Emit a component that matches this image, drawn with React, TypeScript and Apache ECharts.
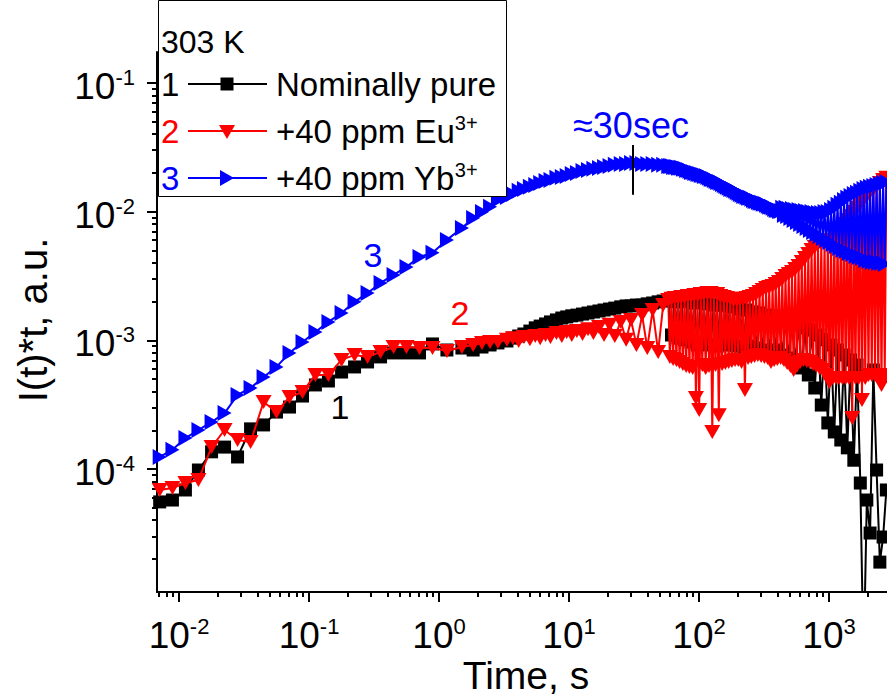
import React, { useEffect, useRef } from 'react';
import * as echarts from 'echarts';

// Time axis (s): shared early/mid part
const timeBase = [
  0.0071, 0.0089, 0.0112, 0.0141, 0.0178, 0.0224, 0.0282, 0.0355, 0.0447, 0.0562, 0.0708, 0.0891,
  0.112, 0.141, 0.178, 0.224, 0.282, 0.355, 0.447, 0.562, 0.708, 0.891,
  1.15, 1.5, 1.83, 2.14, 2.47, 2.84, 3.33, 3.7, 4.1, 4.5, 5.0, 5.5, 6.0, 6.6, 7.2, 8.0, 8.8, 9.6,
  10.5, 11.5, 12.7, 14, 15.4, 17, 18.6, 20.5, 22.5, 25, 27.5, 30, 33, 36.5, 40, 44, 48.5, 53,
];
// late part, sample 1 (nominally pure)
const timeLatePure = [
  58, 61.4, 65.1, 68.9, 73, 77.4, 82, 86.8, 92, 97.4, 103, 109, 116, 123, 130, 138, 146, 155, 164, 174,
  184, 195, 206, 219, 232, 245, 260, 275, 292, 309, 328, 347, 368, 389, 412, 437, 463, 490, 519, 550,
  583, 617, 654, 693, 734, 777, 823, 872, 924, 979, 1037, 1098, 1163, 1232, 1305, 1383, 1465, 1552,
  1644, 1741, 1845, 1954, 2070, 2193, 2323, 2461, 2607, 2761,
];
// late part, samples 2 and 3 (denser)
const timeLateDoped = [
  58, 59.7, 61.4, 63.2, 65.1, 67, 68.9, 70.9, 73, 75.1,
  77.4, 79.6, 82, 84.4, 86.8, 89.4, 92, 94.7, 97.4, 100.3,
  103, 106, 109, 112.5, 116, 119.5, 123, 126.5, 130, 134,
  138, 142, 146, 150.5, 155, 159.5, 164, 169, 174, 179,
  184, 189.5, 195, 200.5, 206, 212.5, 219, 225.5, 232, 238.5,
  245, 252.5, 260, 267.5, 275, 283.5, 292, 300.5, 309, 318.5,
  328, 337.5, 347, 357.5, 368, 378.5, 389, 400.5, 412, 424.5,
  437, 450, 463, 476.5, 490, 504.5, 519, 534.5, 550, 566.5,
  583, 600, 617, 635.5, 654, 673.5, 693, 713.5, 734, 755.5,
  777, 800, 823, 847.5, 872, 898, 924, 951.5, 979, 1008,
  1037, 1067.5, 1098, 1130.5, 1163, 1197.5, 1232, 1268.5, 1305, 1344,
  1383, 1424, 1465, 1508.5, 1552, 1598, 1644, 1692.5, 1741, 1793,
  1845, 1899.5, 1954, 2012, 2070, 2131.5, 2193, 2258, 2323, 2392,
  2461, 2534, 2607, 2684, 2761,
];

// 1: Nominally pure
const pureBase = [
  5.55e-5, 5.74e-5, 6.87e-5, 9.82e-5, 1.36e-4, 1.48e-4, 1.24e-4, 2.05e-4, 2.2e-4, 2.77e-4, 3.03e-4, 3.69e-4,
  4.5e-4, 4.83e-4, 5.67e-4, 6.21e-4, 6.79e-4, 7.43e-4, 7.98e-4, 7.98e-4, 7.98e-4, 9.37e-4,
  8.41e-4, 8.71e-4, 8.41e-4, 8.87e-4, 9.2e-4, 9.54e-4, 9.88e-4, 1.04e-3, 1.08e-3, 1.12e-3, 1.18e-3, 1.25e-3, 1.29e-3, 1.34e-3, 1.39e-3, 1.44e-3, 1.49e-3, 1.52e-3,
  1.55e-3, 1.57e-3, 1.6e-3, 1.63e-3, 1.66e-3, 1.69e-3, 1.72e-3, 1.75e-3, 1.78e-3, 1.82e-3, 1.85e-3, 1.85e-3, 1.88e-3, 1.88e-3, 1.92e-3, 1.95e-3, 1.99e-3, 2.02e-3,
];
const pureLate = [
  2.06e-3, 1.1e-3, 1.99e-3, 1.04e-3, 2.02e-3, 1.01e-3, 1.99e-3, 9.7e-4, 1.95e-3, 9.2e-4, 1.99e-3, 9.53e-4, 1.92e-3, 9.2e-4, 1.88e-3, 9.03e-4, 1.88e-3, 9.36e-4, 1.85e-3, 9.2e-4,
  1.82e-3, 9.03e-4, 1.75e-3, 8.72e-4, 1.72e-3, 9.03e-4, 1.66e-3, 8.72e-4, 1.63e-3, 8.41e-4, 1.57e-3, 8.11e-4, 1.55e-3, 8.41e-4, 1.49e-3, 7.69e-4, 1.44e-3, 7.29e-4, 1.39e-3, 6.78e-4,
  1.32e-3, 6.1e-4, 1.25e-3, 5.38e-4, 1.2e-3, 4.26e-4, 1.1e-3, 3.14e-4, 1.01e-3, 2.28e-4, 9.2e-4, 1.94e-4, 8.41e-4, 1.68e-4, 7.69e-4, 1.46e-4, 7.03e-4, 1.17e-4,
  6.43e-4, 7.78e-5, 3e-6, 5.74e-5, 3.18e-5, 5.88e-4, 9.82e-5, 1.89e-5, 2.96e-5, 6.87e-5,
];

// 2: +40 ppm Eu3+
const euBase = [
  6.87e-5, 7.12e-5, 7.78e-5, 8.22e-5, 1.48e-4, 2.01e-4, 1.68e-4, 1.62e-4, 3.32e-4, 2.77e-4, 3.63e-4, 3.97e-4,
  5.38e-4, 5.38e-4, 7.04e-4, 7.7e-4, 7.43e-4, 8.12e-4, 8.87e-4, 8.87e-4, 8.71e-4, 8.71e-4,
  8.26e-4, 8.87e-4, 9.2e-4, 9.54e-4, 9.71e-4, 9.71e-4, 1.01e-3, 1.04e-3, 9.88e-4, 1.06e-3, 1.02e-3, 1.08e-3, 1.04e-3, 1.1e-3, 1.06e-3, 1.14e-3, 1.08e-3, 1.16e-3,
  1.1e-3, 1.18e-3, 1.12e-3, 1.22e-3, 1.14e-3, 1.27e-3, 1.1e-3, 1.32e-3, 1.08e-3, 1.39e-3, 1.01e-3, 1.44e-3, 9.2e-4, 1.57e-3, 8.71e-4, 1.72e-3, 8.12e-4, 1.88e-3,
];
const euLate = [
  2.06e-3, 7.42e-4, 2.1e-3, 7.16e-4, 2.13e-3, 7.03e-4, 2.13e-3, 6.78e-4, 2.17e-3, 6.54e-4,
  2.17e-3, 6.32e-4, 2.21e-3, 6.21e-4, 2.21e-3, 6.1e-4, 2.25e-3, 3.56e-4, 2.25e-3, 2.87e-4,
  2.29e-3, 6.43e-4, 2.29e-3, 6.1e-4, 2.33e-3, 6.32e-4, 2.33e-3, 1.94e-4, 2.29e-3, 6.43e-4,
  2.29e-3, 2.62e-4, 2.21e-3, 6.54e-4, 2.17e-3, 6.66e-4, 2.13e-3, 6.78e-4, 2.1e-3, 6.91e-4,
  2.06e-3, 7.03e-4, 2.06e-3, 7.03e-4, 2.06e-3, 6.78e-4, 2.1e-3, 4.11e-4, 2.13e-3, 7.29e-4,
  2.17e-3, 7.42e-4, 2.21e-3, 7.55e-4, 2.29e-3, 7.69e-4, 2.37e-3, 7.55e-4, 2.46e-3, 7.42e-4,
  2.55e-3, 7.29e-4, 2.6e-3, 6.78e-4, 2.64e-3, 7.03e-4, 2.74e-3, 7.16e-4, 2.84e-3, 7.29e-4,
  3.0e-3, 7.03e-4, 3.16e-3, 6.66e-4, 3.28e-3, 6.32e-4, 3.4e-3, 5.88e-4, 3.59e-3, 6.32e-4,
  3.78e-3, 6.78e-4, 4.06e-3, 7.03e-4, 4.36e-3, 6.91e-4, 4.69e-3, 6.78e-4, 5.04e-3, 6.54e-4,
  5.31e-3, 6.32e-4, 5.61e-3, 6.1e-4, 5.71e-3, 5.88e-4, 5.81e-3, 5.38e-4, 5.91e-3, 4.74e-4,
  6.02e-3, 5.1e-4, 6.47e-3, 5.1e-4, 6.95e-3, 5.1e-4, 7.46e-3, 5.1e-4, 8.02e-3, 5.1e-4,
  8.61e-3, 5.1e-4, 9.25e-3, 2.49e-4, 9.94e-3, 5.1e-4, 1.07e-2, 5.1e-4, 1.15e-2, 3.44e-4,
  1.23e-2, 5.1e-4, 1.32e-2, 5.38e-4, 1.42e-2, 5.38e-4, 1.5e-2, 5.38e-4, 1.58e-2, 5.1e-4,
  1.67e-2, 4.5e-4, 1.76e-2, 5.38e-4, 1.83e-2,
];

// 3: +40 ppm Yb3+
const ybBase = [
  1.24e-4, 1.41e-4, 1.74e-4, 2.01e-4, 2.32e-4, 2.72e-4, 3.76e-4, 4.26e-4, 5.19e-4, 6.21e-4, 7.98e-4, 9.71e-4,
  1.16e-3, 1.39e-3, 1.63e-3, 1.99e-3, 2.33e-3, 2.79e-3, 3.22e-3, 3.72e-3, 4.45e-3, 4.8e-3,
  6.03e-3, 7.46e-3, 8.93e-3, 9.93e-3, 1.09e-2, 1.23e-2, 1.3e-2, 1.37e-2, 1.45e-2, 1.5e-2, 1.56e-2, 1.61e-2, 1.67e-2, 1.73e-2, 1.76e-2, 1.83e-2, 1.86e-2, 1.89e-2,
  1.96e-2, 2.0e-2, 2.07e-2, 2.11e-2, 2.15e-2, 2.18e-2, 2.22e-2, 2.26e-2, 2.31e-2, 2.35e-2, 2.35e-2, 2.39e-2, 2.39e-2, 2.35e-2, 2.35e-2, 2.35e-2, 2.31e-2, 2.31e-2,
];
const ybLate = [
  2.26e-2, 2.26e-2, 2.26e-2, 2.22e-2, 2.22e-2, 2.22e-2, 2.19e-2, 2.19e-2, 2.19e-2, 2.15e-2,
  2.15e-2, 2.11e-2, 2.11e-2, 2.07e-2, 2.03e-2, 2.03e-2, 2.0e-2, 2.0e-2, 1.96e-2, 1.96e-2,
  1.93e-2, 1.93e-2, 1.89e-2, 1.89e-2, 1.86e-2, 1.83e-2, 1.79e-2, 1.79e-2, 1.76e-2, 1.73e-2,
  1.7e-2, 1.7e-2, 1.67e-2, 1.64e-2, 1.61e-2, 1.58e-2, 1.56e-2, 1.53e-2, 1.5e-2, 1.5e-2,
  1.47e-2, 1.45e-2, 1.42e-2, 1.4e-2, 1.37e-2, 1.35e-2, 1.32e-2, 1.32e-2, 1.3e-2, 1.28e-2,
  1.28e-2, 1.26e-2, 1.23e-2, 1.21e-2, 1.21e-2, 1.19e-2, 1.17e-2, 1.17e-2, 1.15e-2, 1.15e-2,
  1.13e-2, 1.11e-2, 1.09e-2, 1.09e-2, 1.07e-2, 1.05e-2, 1.03e-2, 1.03e-2, 1.01e-2, 1.01e-2,
  1.07e-2, 9.42e-3, 1.07e-2, 9.25e-3, 1.05e-2, 8.93e-3, 1.05e-2, 8.61e-3, 1.03e-2, 8.31e-3,
  1.03e-2, 8.02e-3, 1.01e-2, 7.74e-3, 1.01e-2, 7.46e-3, 9.94e-3, 7.2e-3, 9.94e-3, 6.95e-3,
  9.76e-3, 6.7e-3, 9.76e-3, 6.47e-3, 9.76e-3, 6.24e-3, 9.94e-3, 6.02e-3, 9.94e-3, 5.81e-3,
  1.03e-2, 5.61e-3, 1.07e-2, 5.41e-3, 1.13e-2, 5.22e-3, 1.17e-2, 5.04e-3, 1.23e-2, 4.95e-3,
  1.28e-2, 4.77e-3, 1.32e-2, 4.69e-3, 1.37e-2, 4.52e-3, 1.4e-2, 4.44e-3, 1.45e-2, 4.36e-3,
  1.5e-2, 4.21e-3, 1.53e-2, 4.14e-3, 1.56e-2, 4.06e-3, 1.58e-2, 4.06e-3, 1.61e-2, 3.99e-3,
  1.64e-2, 3.99e-3, 1.67e-2, 3.92e-3, 1.7e-2,
];

const xMajorTicks = [0.01, 0.1, 1, 10, 100, 1000];
const yMajorTicks = [1e-4, 1e-3, 1e-2, 1e-1];
const minorMultipliers = [2, 3, 4, 5, 6, 7, 8, 9];
const xDecades = [0.001, 0.01, 0.1, 1, 10, 100, 1000];
const yDecades = [1e-6, 1e-5, 1e-4, 1e-3, 1e-2, 1e-1];

const legendNumbers = ['1', '2', '3'];
const legendNames = ['Nominally pure', '+40 ppm Eu', '+40 ppm Yb'];
const legendSups = ['', '3+', '3+'];
const seriesColors = ['#000000', '#ff0000', '#0000ff'];

const peakTime = 31;
const peakMarkTop = 0.033;
const peakMarkBottom = 0.0135;

const X_MIN = 0.00677;
const X_MAX = 2793;
const Y_MIN = 1.107e-5;
const Y_MAX = 0.174;

const FONT = 'Liberation Sans, Arial, sans-serif';

export default function App() {
  const ref = useRef<HTMLDivElement>(null);

  useEffect(() => {
    document.body.style.margin = '0';
    const chart = echarts.init(ref.current!, null, { renderer: 'svg' });

    const pair = (ts: number[], ys: number[]) => ts.map((t, i) => [t, ys[i]]);
    const minorX: number[] = [];
    xDecades.forEach((d) => minorMultipliers.forEach((m) => minorX.push(+(d * m).toPrecision(3))));
    const minorY: number[] = [];
    yDecades.forEach((d) => minorMultipliers.forEach((m) => minorY.push(+(d * m).toPrecision(3))));

    const supFmt = (v: number) => `{b|10}{s|${Math.round(Math.log10(v))}}`;
    const richLabel = {
      b: { fontSize: 37, lineHeight: 40, fontFamily: FONT, color: '#000' },
      s: { fontSize: 22, lineHeight: 24, verticalAlign: 'top', fontFamily: FONT, color: '#000' },
    };
    const tickStyle = { color: '#000', width: 2 };

    const graphic: any[] = [
      {
        type: 'rect',
        shape: { x: 158.5, y: 0.5, width: 348, height: 196 },
        style: { fill: '#fff', stroke: '#000', lineWidth: 1 },
        z: 100,
      },
      {
        type: 'text', x: 161, y: 42, z: 101,
        style: { text: '303 K', fontSize: 32, fontFamily: FONT, fill: '#000', align: 'left', verticalAlign: 'middle' },
      },
    ];
    const rowY = [84, 131, 178];
    legendNumbers.forEach((n, i) => {
      const y = rowY[i];
      const c = seriesColors[i];
      graphic.push({
        type: 'text', x: 161, y, z: 101,
        style: { text: n, fontSize: 33, fontFamily: FONT, fill: c, align: 'left', verticalAlign: 'middle' },
      });
      graphic.push({
        type: 'line', z: 101,
        shape: { x1: 188, y1: y, x2: 267, y2: y },
        style: { stroke: c, lineWidth: 2 },
      });
      if (i === 0) {
        graphic.push({ type: 'rect', z: 102, shape: { x: 220.5, y: y - 6.5, width: 13, height: 13 }, style: { fill: c } });
      } else if (i === 1) {
        graphic.push({ type: 'polygon', z: 102, shape: { points: [[219, y - 6], [235, y - 6], [227, y + 8]] }, style: { fill: c } });
      } else {
        graphic.push({ type: 'polygon', z: 102, shape: { points: [[220, y - 8], [220, y + 8], [234, y]] }, style: { fill: c } });
      }
      graphic.push({
        type: 'text', x: 276, y, z: 101,
        style: {
          text: `{b|${legendNames[i]}}` + (legendSups[i] ? `{s|${legendSups[i]}}` : ''),
          fill: '#000', align: 'left', verticalAlign: 'middle',
          rich: {
            b: { fontSize: 33, lineHeight: 36, fontFamily: FONT, fill: '#000' },
            s: { fontSize: 20, lineHeight: 20, verticalAlign: 'top', fontFamily: FONT, fill: '#000' },
          },
        },
      });
    });
    graphic.push(
      { type: 'text', x: 373, y: 255, style: { text: '3', fontSize: 34, fontFamily: FONT, fill: '#0000ff', align: 'center', verticalAlign: 'middle' } },
      { type: 'text', x: 460, y: 313, style: { text: '2', fontSize: 34, fontFamily: FONT, fill: '#ff0000', align: 'center', verticalAlign: 'middle' } },
      { type: 'text', x: 340, y: 407, style: { text: '1', fontSize: 34, fontFamily: FONT, fill: '#000', align: 'center', verticalAlign: 'middle' } },
      { type: 'text', x: 631, y: 125, style: { text: '≈30sec', fontSize: 36, fontFamily: FONT, fill: '#0000ff', align: 'center', verticalAlign: 'middle' } },
      { type: 'text', x: 526, y: 675, style: { text: 'Time, s', fontSize: 39, fontFamily: FONT, fill: '#000', align: 'center', verticalAlign: 'middle' } },
      {
        type: 'text', x: 33, y: 320, rotation: Math.PI / 2,
        style: { text: 'I(t)*t, a.u.', fontSize: 40, fontFamily: FONT, fill: '#000', align: 'center', verticalAlign: 'middle' },
      },
    );

    const mkSeries = (name: string, data: number[][], color: string, symbol: string, size: any, rot: number, z: number, extra: any = {}) => ({
      name,
      type: 'line',
      xAxisIndex: 0,
      yAxisIndex: 0,
      z,
      data,
      symbol,
      symbolSize: size,
      symbolRotate: rot,
      showAllSymbol: true,
      lineStyle: { color, width: 2 },
      itemStyle: { color },
      emphasis: { disabled: true },
      ...extra,
    });

    const option: any = {
      animation: false,
      textStyle: { fontFamily: FONT },
      grid: { left: 157, right: 0, top: 52, bottom: 108, containLabel: false, outerBoundsMode: 'none' },
      xAxis: [
        {
          type: 'log', logBase: 10, min: X_MIN, max: X_MAX, position: 'bottom',
          axisLine: { show: true, onZero: false, lineStyle: tickStyle },
          axisTick: { show: true, customValues: xMajorTicks, length: 10, lineStyle: tickStyle },
          axisLabel: { show: true, customValues: xMajorTicks, formatter: supFmt, rich: richLabel, margin: 23 },
          splitLine: { show: false },
        },
        {
          type: 'log', logBase: 10, min: X_MIN, max: X_MAX, position: 'bottom',
          axisLine: { show: false, onZero: false },
          axisTick: { show: true, customValues: minorX, length: 5, lineStyle: tickStyle },
          axisLabel: { show: false },
          splitLine: { show: false },
        },
      ],
      yAxis: [
        {
          type: 'log', logBase: 10, min: Y_MIN, max: Y_MAX, position: 'left',
          axisLine: { show: true, onZero: false, lineStyle: tickStyle },
          axisTick: { show: true, customValues: yMajorTicks, length: 10, lineStyle: tickStyle },
          axisLabel: { show: true, customValues: yMajorTicks, formatter: supFmt, rich: richLabel, margin: 22, padding: [7, 0, 0, 0] },
          splitLine: { show: false },
        },
        {
          type: 'log', logBase: 10, min: Y_MIN, max: Y_MAX, position: 'left',
          axisLine: { show: false, onZero: false },
          axisTick: { show: true, customValues: minorY, length: 5, lineStyle: tickStyle },
          axisLabel: { show: false },
          splitLine: { show: false },
        },
      ],
      series: [
        mkSeries('Nominally pure', pair([...timeBase, ...timeLatePure], [...pureBase, ...pureLate]), '#000000', 'rect', 13, 0, 2),
        mkSeries('+40 ppm Eu3+', pair([...timeBase, ...timeLateDoped], [...euBase, ...euLate]), '#ff0000', 'triangle', [16, 14], 180, 3),
        mkSeries('+40 ppm Yb3+', pair([...timeBase, ...timeLateDoped], [...ybBase, ...ybLate]), '#0000ff', 'triangle', [16, 14], -90, 4, {
          markLine: {
            silent: true,
            symbol: ['none', 'none'],
            label: { show: false },
            lineStyle: { color: '#000', width: 2, type: 'solid' },
            data: [[{ coord: [peakTime, peakMarkTop] }, { coord: [peakTime, peakMarkBottom] }]],
          },
        }),
      ],
      graphic,
    };
    chart.setOption(option);
    return () => chart.dispose();
  }, []);

  return <div ref={ref} style={{ position: 'absolute', left: 0, top: 0, width: 887, height: 700 }} />;
}
